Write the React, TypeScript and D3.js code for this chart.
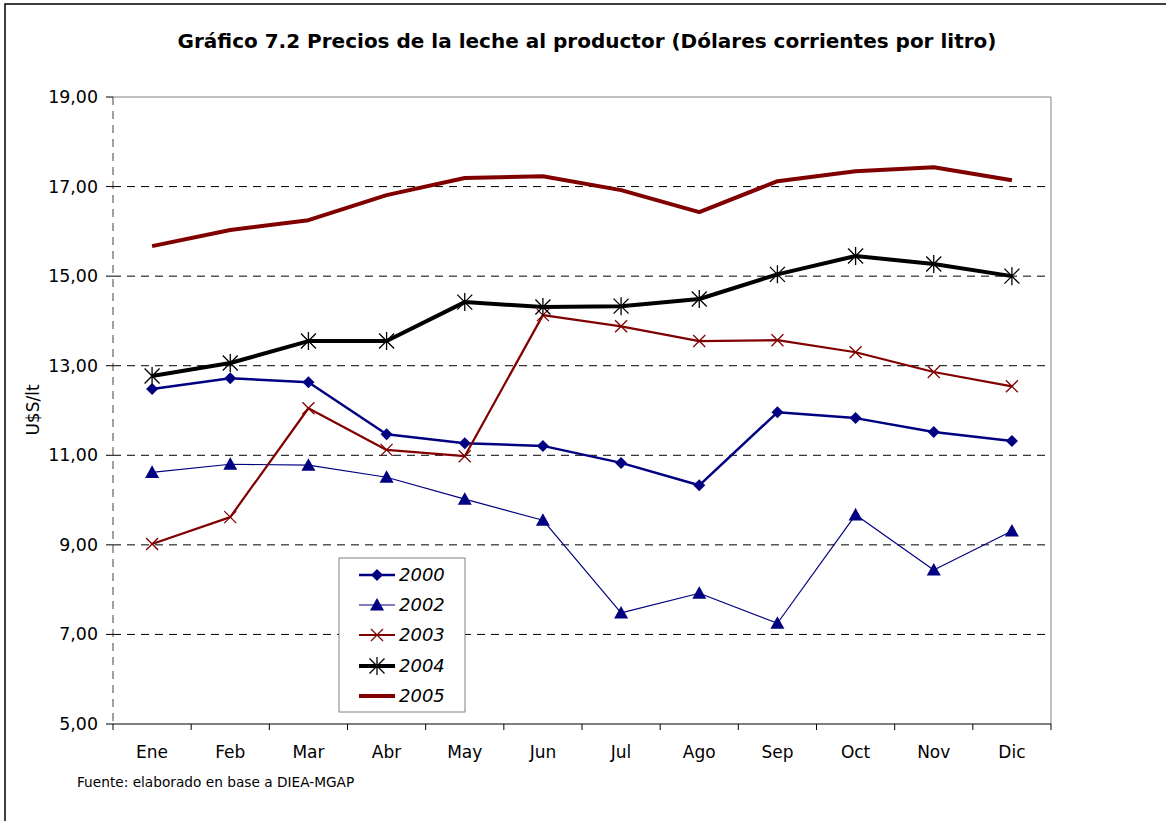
import React from "react";
import * as d3 from "d3";

const months = ["Ene", "Feb", "Mar", "Abr", "May", "Jun", "Jul", "Ago", "Sep", "Oct", "Nov", "Dic"];
const yTicks = [5, 7, 9, 11, 13, 15, 17, 19];
const v2000 = [12.48, 12.72, 12.63, 11.47, 11.27, 11.21, 10.83, 10.33, 11.96, 11.83, 11.52, 11.32];
const v2002 = [10.62, 10.8, 10.78, 10.51, 10.02, 9.55, 7.48, 7.92, 7.25, 9.67, 8.44, 9.31];
const v2003 = [9.02, 9.62, 12.05, 11.12, 10.98, 14.13, 13.88, 13.55, 13.57, 13.3, 12.86, 12.54];
const v2004 = [12.77, 13.06, 13.55, 13.55, 14.42, 14.31, 14.33, 14.49, 15.04, 15.45, 15.27, 15.0];
const v2005 = [15.67, 16.03, 16.25, 16.81, 17.19, 17.23, 16.92, 16.43, 17.12, 17.34, 17.43, 17.14];

type Marker = "diamond" | "triangle" | "x" | "star" | "none";
const series: { name: string; values: number[]; color: string; width: number; marker: Marker }[] = [
  { name: "2000", values: v2000, color: "#000080", width: 2.5, marker: "diamond" },
  { name: "2002", values: v2002, color: "#000080", width: 1.2, marker: "triangle" },
  { name: "2003", values: v2003, color: "#800000", width: 2.2, marker: "x" },
  { name: "2004", values: v2004, color: "#000000", width: 4, marker: "star" },
  { name: "2005", values: v2005, color: "#800000", width: 4, marker: "none" },
];

const FONT = "'DejaVu Sans', Verdana, sans-serif";

function MarkerShape({ type, x, y, color }: { type: Marker; x: number; y: number; color: string }) {
  if (type === "diamond") {
    const s = 6;
    return <path d={`M${x},${y - s}L${x + s},${y}L${x},${y + s}L${x - s},${y}Z`} fill={color} />;
  }
  if (type === "triangle") {
    const s = 7;
    return <path d={`M${x},${y - s}L${x + s},${y + s * 0.8}L${x - s},${y + s * 0.8}Z`} fill={color} />;
  }
  if (type === "x") {
    const s = 6;
    return (
      <path d={`M${x - s},${y - s}L${x + s},${y + s}M${x - s},${y + s}L${x + s},${y - s}`} stroke={color} strokeWidth={1.3} fill="none" />
    );
  }
  if (type === "star") {
    const s = 7.5;
    return (
      <path
        d={`M${x - s},${y - s}L${x + s},${y + s}M${x - s},${y + s}L${x + s},${y - s}M${x},${y - s * 1.2}L${x},${y + s * 1.2}`}
        stroke={color}
        strokeWidth={1.3}
        fill="none"
      />
    );
  }
  return null;
}

export default function App() {
  const W = 1166;
  const H = 821;
  const left = 113, right = 1051, top = 97, bottom = 724;
  const x = d3.scaleBand<string>().domain(months).range([left, right]);
  const y = d3.scaleLinear().domain([5, 19]).range([bottom, top]);
  const cx = (m: string) => (x(m) as number) + x.bandwidth() / 2;
  const line = d3
    .line<number>()
    .x((_, i) => cx(months[i]))
    .y((d) => y(d));

  const legendX = 339, legendY = 558;
  const legendRows = [575, 605, 635, 666, 696];

  return (
    <svg width={W} height={H} style={{ position: "absolute", left: 0, top: 0 }} fontFamily={FONT}>
      <rect x={0} y={0} width={W} height={H} fill="#fff" />
      <rect x={5} y={4} width={W + 10} height={H + 10} fill="none" stroke="#000" strokeWidth={1.5} />
      <text x={587} y={48} textAnchor="middle" fontSize={20} fontWeight="bold" fill="#000">
        Gráfico 7.2 Precios de la leche al productor (Dólares corrientes por litro)
      </text>
      {/* gridlines */}
      {yTicks.filter((t) => t !== 5 && t !== 19).map((t) => (
        <line key={t} x1={left} x2={right} y1={y(t)} y2={y(t)} stroke="#000" strokeWidth={1} strokeDasharray="8,6" />
      ))}
      {/* plot frame */}
      <line x1={left} x2={right} y1={top} y2={top} stroke="#808080" strokeWidth={1} />
      <line x1={right} x2={right} y1={top} y2={bottom} stroke="#808080" strokeWidth={1} />
      <line x1={left} x2={left} y1={top} y2={bottom} stroke="#404040" strokeWidth={1} strokeDasharray="8,6" />
      <line x1={left} x2={right} y1={bottom} y2={bottom} stroke="#000" strokeWidth={1} />
      {/* y ticks */}
      {yTicks.map((t) => (
        <g key={t}>
          <line x1={left - 7} x2={left} y1={y(t)} y2={y(t)} stroke="#000" />
          <text x={98} y={y(t) + 6} textAnchor="end" fontSize={17.4} fill="#000">
            {d3.format(".2f")(t).replace(".", ",")}
          </text>
        </g>
      ))}
      {/* x ticks */}
      {months.map((m) => (
        <g key={m}>
          <line x1={x(m) as number} x2={x(m) as number} y1={bottom} y2={bottom + 6} stroke="#000" />
          <text x={cx(m)} y={758} textAnchor="middle" fontSize={17} fill="#000">
            {m}
          </text>
        </g>
      ))}
      <line x1={right} x2={right} y1={bottom} y2={bottom + 6} stroke="#000" />
      <text transform={`translate(39,410) rotate(-90)`} textAnchor="middle" fontSize={17} fill="#000">
        U$S/lt
      </text>
      <text x={77} y={787} fontSize={13.7} fill="#000">
        Fuente: elaborado en base a DIEA-MGAP
      </text>
      {/* series */}
      {series.map((s) => (
        <g key={s.name}>
          <path d={line(s.values) || ""} fill="none" stroke={s.color} strokeWidth={s.width} strokeLinejoin="round" />
          {s.values.map((v, i) => (
            <MarkerShape key={i} type={s.marker} x={cx(months[i])} y={y(v)} color={s.color} />
          ))}
        </g>
      ))}
      {/* legend */}
      <rect x={legendX} y={legendY} width={126} height={154} fill="#fff" stroke="#808080" strokeWidth={1} />
      {series.map((s, i) => (
        <g key={s.name}>
          <line x1={359} x2={395} y1={legendRows[i]} y2={legendRows[i]} stroke={s.color} strokeWidth={s.width} />
          <MarkerShape type={s.marker} x={377} y={legendRows[i]} color={s.color} />
          <text x={399} y={legendRows[i] + 6} fontSize={18} fontStyle="italic" fill="#000">
            {s.name}
          </text>
        </g>
      ))}
    </svg>
  );
}
